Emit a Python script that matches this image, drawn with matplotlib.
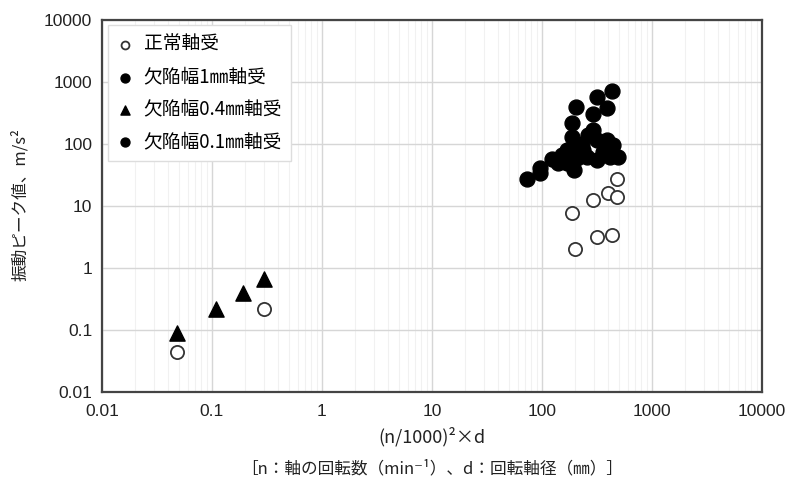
import numpy as np
import matplotlib
matplotlib.use("Agg")
import matplotlib.pyplot as plt
from matplotlib.ticker import FixedLocator, FixedFormatter, LogLocator, NullFormatter

plt.rcParams['font.family'] = ['Noto Sans CJK JP', 'DejaVu Sans']

# series (x = (n/1000)^2*d, y = peak vibration m/s^2)
normal_x = [0.048, 0.30, 200, 187, 291, 316, 398, 433, 481, 481]
normal_y = [0.044, 0.22, 2.0, 7.7, 12.5, 3.16, 16.2, 3.4, 14, 27]

defect1_x = [187, 204, 316, 433, 390, 291, 291, 187, 316, 390, 444, 197, 230, 260]
defect1_y = [218, 395, 573, 716, 380, 305, 168, 130, 116, 116, 96, 90, 100, 140]

defect04_x = [0.048, 0.109, 0.19, 0.30]
defect04_y = [0.09, 0.22, 0.40, 0.67]

defect01_x = [73, 95, 95, 123, 152, 169, 140, 197, 234, 169, 257, 316, 359, 415, 491, 210, 180]
defect01_y = [27, 41, 34, 57, 66, 49, 49, 38, 80, 80, 62, 55, 74, 62, 62, 60, 65]

labels = ['正常軸受', '欠陥幅1㎜軸受', '欠陥幅0.4㎜軸受', '欠陥幅0.1㎜軸受']
decades = [0.01, 0.1, 1, 10, 100, 1000, 10000]
decade_labels = ['0.01', '0.1', '1', '10', '100', '1000', '10000']

fig = plt.figure(figsize=(7.88, 4.87), dpi=100)
ax = fig.add_axes([102/788, 1-392/487, 660/788, 372/487])
ax.set_xscale('log')
ax.set_yscale('log')
ax.set_xlim(0.01, 10000)
ax.set_ylim(0.01, 10000)

#grid: major both ways, minor only vertical
ax.xaxis.set_minor_locator(LogLocator(base=10, subs=np.arange(2, 10)))
ax.xaxis.set_minor_formatter(NullFormatter())
ax.yaxis.set_minor_formatter(NullFormatter())
ax.grid(which='major', color='#d6d6d6', lw=1.0)
ax.grid(which='minor', axis='x', color='#f1f1f1', lw=0.8)
ax.set_axisbelow(True)

ax.scatter(normal_x, normal_y, s=90, facecolors='white', edgecolors='#333333',
           linewidths=1.3, label=labels[0], zorder=3)
ax.scatter(defect1_x, defect1_y, s=115, color='black', label=labels[1], zorder=3)
ax.scatter(defect04_x, defect04_y, s=120, marker='^', color='black', label=labels[2], zorder=3)
ax.scatter(defect01_x, defect01_y, s=115, color='black', label=labels[3], zorder=3)

ax.xaxis.set_major_locator(FixedLocator(decades))
ax.xaxis.set_major_formatter(FixedFormatter(decade_labels))
ax.yaxis.set_major_locator(FixedLocator(decades))
ax.yaxis.set_major_formatter(FixedFormatter(decade_labels))
ax.tick_params(which='both', length=0, labelsize=12.5, pad=7, colors='#222222',
               labelfontfamily='Liberation Sans')
ax.tick_params(axis='x', pad=9)

for s in ax.spines.values():
    s.set_color('#444444')
    s.set_linewidth(1.6)

leg = ax.legend(loc='upper left', bbox_to_anchor=(0.009, 0.987), borderaxespad=0,
                fontsize=13.5, markerscale=0.6, handlelength=0.8, handletextpad=0.6,
                labelspacing=0.6, borderpad=0.5, fancybox=False, framealpha=1)
leg.get_frame().set_edgecolor('#dddddd')
leg.get_frame().set_linewidth(1.0)

fig.text(20/788, 1-205/487, '振動ピーク値、m/s²', rotation=90, ha='center', va='center',
         fontsize=12, color='#222222')
fig.text(432/788, 1-437/487, '(n/1000)²×d', ha='center', va='center', fontsize=13,
         color='#222222')
fig.text(432/788, 1-469/487, '［n：軸の回転数（min⁻¹）、d：回転軸径（㎜）］', ha='center',
         va='center', fontsize=12, color='#222222')

fig.savefig('out.png', dpi=100)
